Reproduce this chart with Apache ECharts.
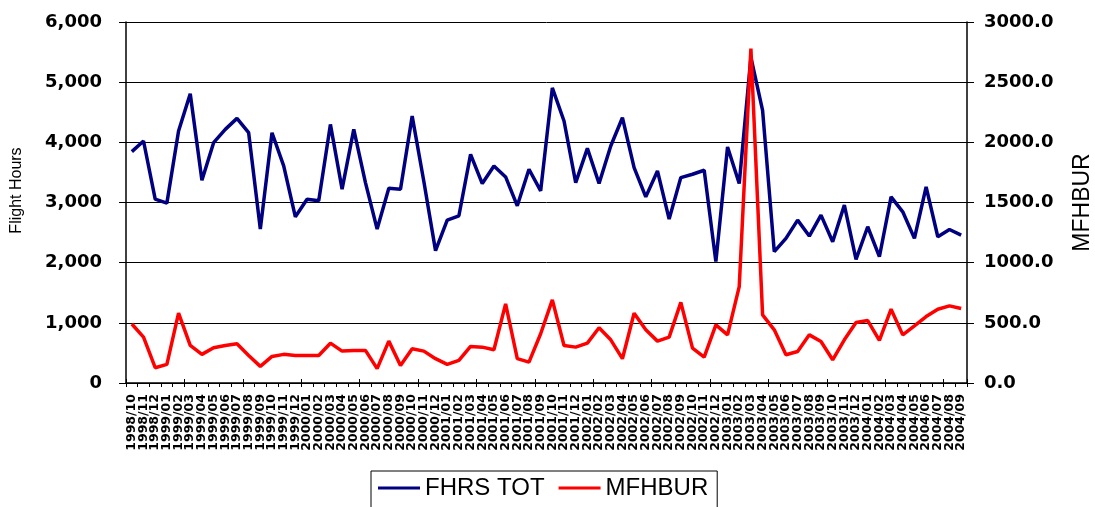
<!DOCTYPE html>
<html>
<head>
<meta charset="utf-8">
<script src="https://cdn.jsdelivr.net/npm/echarts@6/dist/echarts.min.js"></script>
<style>
html,body{margin:0;padding:0;background:#fff;}
#chart{width:1095px;height:507px;}
</style>
</head>
<body>
<div id="chart"></div>
<script>
var months = [
"1998/10","1998/11","1998/12","1999/01","1999/02","1999/03","1999/04","1999/05","1999/06","1999/07","1999/08","1999/09",
"1999/10","1999/11","1999/12","2000/01","2000/02","2000/03","2000/04","2000/05","2000/06","2000/07","2000/08","2000/09",
"2000/10","2000/11","2000/12","2001/01","2001/02","2001/03","2001/04","2001/05","2001/06","2001/07","2001/08","2001/09",
"2001/10","2001/11","2001/12","2002/01","2002/02","2002/03","2002/04","2002/05","2002/06","2002/07","2002/08","2002/09",
"2002/10","2002/11","2002/12","2003/01","2003/02","2003/03","2003/04","2003/05","2003/06","2003/07","2003/08","2003/09",
"2003/10","2003/11","2003/12","2004/01","2004/02","2004/03","2004/04","2004/05","2004/06","2004/07","2004/08","2004/09"
];
var fhrsTot = [
3845,4022,3055,2990,4188,4807,3370,3994,4215,4398,
4160,2558,4160,3608,2762,3055,3028,4298,3221,4215,
3331,2558,3238,3221,4436,3350,2200,2707,2779,3801,
3315,3608,3425,2945,3552,3193,4906,4354,3331,3900,
3315,3939,4409,3580,3094,3525,2724,3414,3470,3536,
2017,3923,3315,5414,4530,2182,2403,2707,2442,2790,
2348,2956,2055,2597,2099,3094,2845,2403,3260,2431,
2552,2459
];
var mfhbur = [
490,381,127,155,580,312,238,293,312,326,
229,138,221,238,229,229,229,331,265,271,
271,119,348,146,285,265,202,155,188,304,
298,276,657,202,174,409,691,312,298,331,
459,359,202,580,442,348,381,670,290,215,
483,400,801,2780,566,442,235,262,400,345,
193,359,503,519,354,613,400,475,552,613,
641,619
];
var leftTicks = {min:0, max:6000, interval:1000};
var rightTicks = {min:0, max:3000, interval:500};

var chart = echarts.init(document.getElementById('chart'));
var tickFont = {fontFamily:'DejaVu Sans', fontWeight:'bold', fontSize:18, color:'#000'};
chart.setOption({
  animation:false,
  backgroundColor:'#fff',
  grid:{left:126, right:128, top:22, height:361, containLabel:false, outerBoundsMode:'none'},
  legend:{
    left:371, top:471,
    padding:[5,9,12,7],
    borderColor:'#000', borderWidth:1,
    itemWidth:42, itemHeight:3, itemGap:14,
    textStyle:{fontFamily:'Liberation Sans', fontSize:24, color:'#000'},
    data:[{name:'FHRS TOT', icon:'rect'},{name:'MFHBUR', icon:'rect'}]
  },
  xAxis:[{
    type:'category', data:months, boundaryGap:true, position:'bottom',
    axisLine:{lineStyle:{color:'#000', width:1.5}},
    axisTick:{show:true, inside:false, length:4, lineStyle:{color:'#000'}},
    axisLabel:{rotate:90, interval:0, margin:11, hideOverlap:false,
      fontFamily:'DejaVu Sans', fontWeight:'bold', fontSize:12.5, color:'#000'},
    splitLine:{show:false}
  },{
    type:'category', data:months, boundaryGap:true, position:'bottom',
    axisLine:{show:false},
    axisTick:{show:true, inside:true, length:4, lineStyle:{color:'#000'}},
    axisLabel:{show:false},
    splitLine:{show:false}
  }],
  yAxis:[{
    type:'value', min:leftTicks.min, max:leftTicks.max, interval:leftTicks.interval,
    position:'left',
    name:'Flight Hours', nameLocation:'middle', nameGap:101,
    nameTextStyle:{fontFamily:'Liberation Sans', fontSize:16, color:'#000', padding:[0,0,0,24]},
    axisLine:{show:true, lineStyle:{color:'#000', width:1.5}},
    axisTick:{show:true, length:7, lineStyle:{color:'#000'}},
    axisLabel:Object.assign({margin:24, formatter:function(v){return v.toLocaleString('en-US');}}, tickFont),
    splitLine:{show:true, lineStyle:{color:'#000', width:1}}
  },{
    type:'value', min:rightTicks.min, max:rightTicks.max, interval:rightTicks.interval,
    position:'right',
    name:'MFHBUR', nameLocation:'middle', nameGap:104,
    nameTextStyle:{fontFamily:'Liberation Sans', fontSize:23, color:'#000'},
    axisLine:{show:true, lineStyle:{color:'#000', width:1.5}},
    axisTick:{show:true, length:7, lineStyle:{color:'#000'}},
    axisLabel:Object.assign({margin:17, formatter:function(v){return v.toFixed(1);}}, tickFont),
    splitLine:{show:false}
  }],
  series:[{
    name:'FHRS TOT', type:'line', data:fhrsTot, xAxisIndex:0, yAxisIndex:0,
    symbol:'none', lineStyle:{color:'#000080', width:3.5}, itemStyle:{color:'#000080'}
  },{
    name:'MFHBUR', type:'line', data:mfhbur, xAxisIndex:0, yAxisIndex:1,
    symbol:'none', lineStyle:{color:'#ff0000', width:3.5}, itemStyle:{color:'#ff0000'}
  }]
});
</script>
</body>
</html>
